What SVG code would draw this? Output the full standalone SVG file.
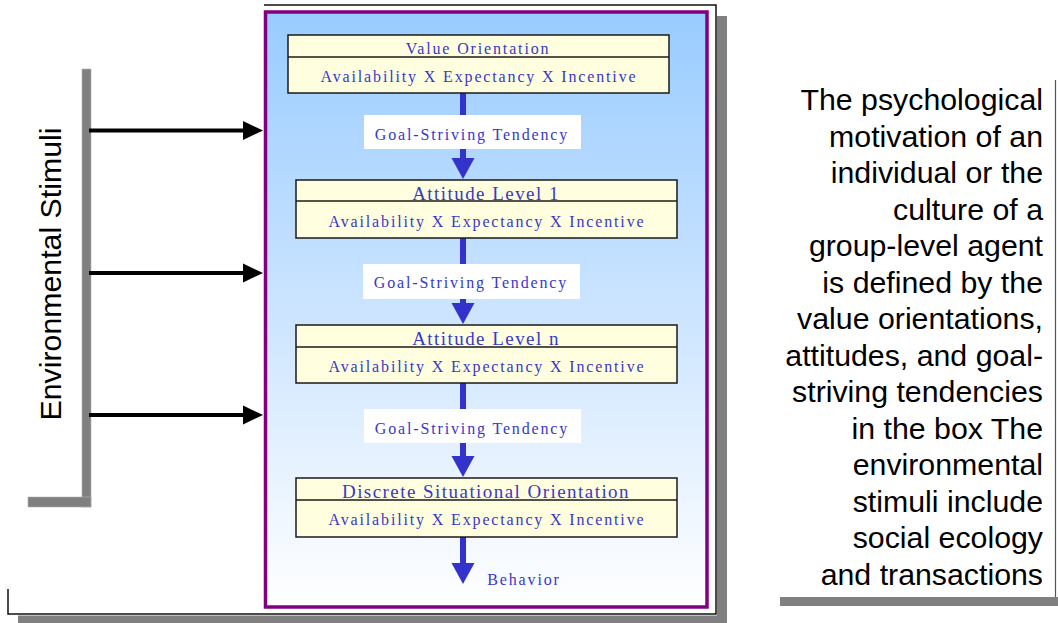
<svg xmlns="http://www.w3.org/2000/svg" width="1058" height="623" viewBox="0 0 1058 623">
<style>
.box{fill:#FFFFE0;stroke:#1a1a1a;stroke-width:1.5}
.div{stroke:#1a1a1a;stroke-width:1.5}
.t{font-family:"Liberation Serif","Times New Roman",serif;fill:#3838C8;text-anchor:middle}
.s{font-size:16px;letter-spacing:1.85px}
.h{font-size:19px;letter-spacing:1.45px}
.lbl{fill:#FFFFFF}
.blue{fill:#3333CC}
.blk{stroke:#000;stroke-width:4}
.side{font-family:"Liberation Sans",Arial,sans-serif;font-size:30.3px;fill:#000}
.r{text-anchor:end}
.shadow{fill:#808080}
</style>
<defs>
<linearGradient id="bg" x1="0" y1="0" x2="0" y2="1">
<stop offset="0" stop-color="#99CCFF"/>
<stop offset="0.5" stop-color="#CCE4FF"/>
<stop offset="1" stop-color="#FFFFFF"/>
</linearGradient>
</defs>
<rect width="1058" height="623" fill="#FFFFFF"/>
<g id="frame">
<rect class="shadow" x="717" y="16" width="10" height="607"/>
<rect class="shadow" x="18" y="615.5" width="709" height="7.5"/>
<path d="M264 5 H716 V614 H8 V589" fill="none" stroke="#111" stroke-width="1.5"/>
<rect x="265.5" y="12" width="441.5" height="595" fill="url(#bg)" stroke="#800080" stroke-width="3.5"/>
</g>
<g id="stimuli">
<rect class="shadow" x="82" y="69" width="9" height="438" stroke="#b0b0b0" stroke-width="0.6"/>
<rect class="shadow" x="28" y="497" width="63" height="10" stroke="#b0b0b0" stroke-width="0.6"/>
<text class="side" font-size="31" text-anchor="middle" transform="translate(61,274) rotate(-90)">Environmental Stimuli</text>
</g>
<g id="description">
<rect class="shadow" x="780" y="597" width="278" height="9"/>
<line x1="1055.5" y1="80" x2="1055.5" y2="597" stroke="#555" stroke-width="1.2"/>
<text class="side r" x="1043" y="110">The psychological</text>
<text class="side r" x="1043" y="146.5">motivation of an</text>
<text class="side r" x="1043" y="183">individual or the</text>
<text class="side r" x="1043" y="219.5">culture of a</text>
<text class="side r" x="1043" y="256">group-level agent</text>
<text class="side r" x="1043" y="292.5">is defined by the</text>
<text class="side r" x="1043" y="329">value orientations,</text>
<text class="side r" x="1043" y="365.5">attitudes, and goal-</text>
<text class="side r" x="1043" y="402">striving tendencies</text>
<text class="side r" x="1043" y="438.5">in the box The</text>
<text class="side r" x="1043" y="475">environmental</text>
<text class="side r" x="1043" y="511.5">stimuli include</text>
<text class="side r" x="1043" y="548">social ecology</text>
<text class="side r" x="1043" y="584.5">and transactions</text>
</g>
<g id="connectors">
<line class="blk" x1="89" y1="130.5" x2="246" y2="130.5"/>
<polygon points="243,121 263,130.5 243,140" fill="#000"/>
<line class="blk" x1="89" y1="273" x2="246" y2="273"/>
<polygon points="243,263.5 263,273 243,282.5" fill="#000"/>
<line class="blk" x1="89" y1="415" x2="246" y2="415"/>
<polygon points="243,405.5 263,415 243,424.5" fill="#000"/>
<rect class="blue" x="460" y="93" width="6" height="66"/>
<polygon class="blue" points="451.5,158 474.5,158 463,179"/>
<rect class="blue" x="460" y="238" width="6" height="66"/>
<polygon class="blue" points="451.5,303 474.5,303 463,324"/>
<rect class="blue" x="460" y="383" width="6" height="74"/>
<polygon class="blue" points="451.5,456 474.5,456 463,477"/>
<rect class="blue" x="460" y="537" width="6" height="27"/>
<polygon class="blue" points="451.5,563 474.5,563 463,584"/>
<rect class="lbl" x="364" y="115" width="217" height="34"/>
<text class="t s" x="472" y="140">Goal-Striving Tendency</text>
<rect class="lbl" x="363" y="264" width="217" height="35"/>
<text class="t s" x="471" y="288">Goal-Striving Tendency</text>
<rect class="lbl" x="364" y="409" width="217" height="34"/>
<text class="t s" x="472" y="434">Goal-Striving Tendency</text>
<text class="t s" x="524" y="585">Behavior</text>
</g>
<g id="value-orientation">
<rect class="box" x="288" y="35" width="381" height="58"/>
<line class="div" x1="288" y1="57" x2="669" y2="57"/>
<text class="t s" x="478" y="54">Value Orientation</text>
<text class="t s" x="479" y="82">Availability X Expectancy X Incentive</text>
</g>
<g id="attitude-level-1">
<rect class="box" x="296" y="180" width="381" height="58"/>
<line class="div" x1="296" y1="201" x2="677" y2="201"/>
<text class="t h" x="486" y="199.5">Attitude Level 1</text>
<text class="t s" x="487" y="227">Availability X Expectancy X Incentive</text>
</g>
<g id="attitude-level-n">
<rect class="box" x="296" y="325" width="381" height="58"/>
<line class="div" x1="296" y1="347" x2="677" y2="347"/>
<text class="t h" x="486" y="344.5">Attitude Level n</text>
<text class="t s" x="487" y="372">Availability X Expectancy X Incentive</text>
</g>
<g id="discrete-situational-orientation">
<rect class="box" x="296" y="478" width="381" height="59"/>
<line class="div" x1="296" y1="500" x2="677" y2="500"/>
<text class="t h" x="486" y="498">Discrete Situational Orientation</text>
<text class="t s" x="487" y="525">Availability X Expectancy X Incentive</text>
</g>
</svg>
